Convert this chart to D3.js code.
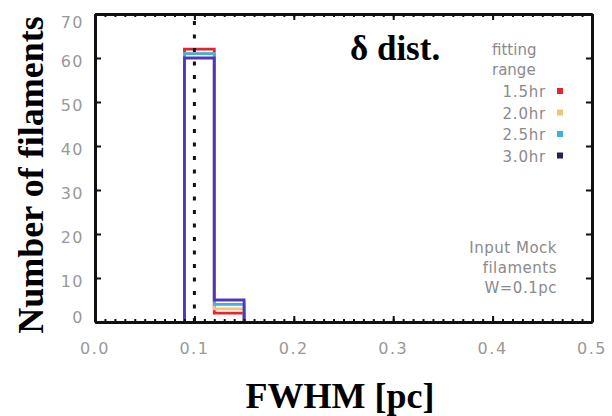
<!DOCTYPE html>
<html>
<head>
<meta charset="utf-8">
<script src="https://cdn.jsdelivr.net/npm/d3@7"></script>
<style>
  body { margin: 0; background: #fff; }
  svg { display: block; }
</style>
</head>
<body>
<div id="container"></div>
<script>
// histogram data
let binEdges = [0.09, 0.12, 0.15];
let seriesNames = ["1.5hr", "2.0hr", "2.5hr", "3.0hr"];
let seriesColors = ["#e3262e", "#f2c27a", "#3fb0e0", "#5236b8"];
let counts15 = [62, 2];
let counts20 = [61, 3];
let counts25 = [61, 4];
let counts30 = [60, 5];
let allCounts = [counts15, counts20, counts25, counts30];
let xTicks = [0.0, 0.1, 0.2, 0.3, 0.4, 0.5];
let yTicks = [0, 10, 20, 30, 40, 50, 60, 70];
let inputWidth = 0.1;

let w = 612;
let h = 416;
let padLeft = 95, padRight = 592, padTop = 14, padBottom = 322;

let viz = d3.select("#container")
  .append("svg")
    .attr("width", w)
    .attr("height", h)
;

let xScale = d3.scaleLinear().domain([0, 0.5]).range([padLeft, padRight]);
let yScale = d3.scaleLinear().domain([0, 70]).range([padBottom, padTop]);

// histogram steps
let stepLine = d3.line().x(d => xScale(d[0])).y(d => yScale(d[1]));
function stepPoints(c) {
  let pts = [[binEdges[0], 0]];
  for (let i = 0; i < c.length; i++) {
    pts.push([binEdges[i], c[i]]);
    pts.push([binEdges[i + 1], c[i]]);
  }
  pts.push([binEdges[binEdges.length - 1], 0]);
  return pts;
}
viz.append("g").selectAll("path")
  .data(allCounts)
  .enter()
  .append("path")
    .attr("d", d => stepLine(stepPoints(d)))
    .attr("fill", "none")
    .attr("stroke", (d, i) => seriesColors[i])
    .attr("stroke-width", 2.8)
;

// dotted input width line
viz.append("line")
  .attr("x1", xScale(inputWidth)).attr("x2", xScale(inputWidth))
  .attr("y1", yScale(0)).attr("y2", yScale(70))
  .attr("stroke", "#111")
  .attr("stroke-width", 3)
  .attr("stroke-dasharray", "4,9.5")
;

// axes: bottom/top/left/right with inward ticks
let xMinor = d3.range(0, 0.5001, 0.01);
function makeAxis(axisFn, scale, ticks, len) {
  return axisFn(scale).tickValues(ticks).tickSize(len).tickSizeOuter(0).tickFormat("");
}
let axesGroup = viz.append("g");
// minor ticks (x only)
axesGroup.append("g").attr("transform", "translate(0," + padBottom + ")")
  .call(makeAxis(d3.axisTop, xScale, xMinor, 3));
axesGroup.append("g").attr("transform", "translate(0," + padTop + ")")
  .call(makeAxis(d3.axisBottom, xScale, xMinor, 3));
// major ticks
axesGroup.append("g").attr("transform", "translate(0," + padBottom + ")")
  .call(makeAxis(d3.axisTop, xScale, xTicks, 6));
axesGroup.append("g").attr("transform", "translate(0," + padTop + ")")
  .call(makeAxis(d3.axisBottom, xScale, xTicks, 6));
axesGroup.append("g").attr("transform", "translate(" + padLeft + ",0)")
  .call(makeAxis(d3.axisRight, yScale, yTicks, 6));
axesGroup.append("g").attr("transform", "translate(" + padRight + ",0)")
  .call(makeAxis(d3.axisLeft, yScale, yTicks, 6));
axesGroup.selectAll("path.domain").attr("stroke", "#111").attr("stroke-width", 3);
axesGroup.selectAll(".tick line").attr("stroke", "#111").attr("stroke-width", 2);

// tick labels
viz.append("g").selectAll("text")
  .data(xTicks)
  .enter()
  .append("text")
    .attr("x", d => xScale(d))
    .attr("y", 354)
    .attr("text-anchor", "middle")
    .attr("font-family", "DejaVu Sans, sans-serif")
    .attr("font-size", 16)
    .attr("letter-spacing", 1.5)
    .attr("fill", "#999")
    .text(d => d.toFixed(1))
;
viz.append("g").selectAll("text")
  .data(yTicks)
  .enter()
  .append("text")
    .attr("x", 84)
    .attr("y", d => Math.min(Math.max(yScale(d) + 3, padTop + 8), padBottom - 5) + 6)
    .attr("text-anchor", "end")
    .attr("font-family", "DejaVu Sans, sans-serif")
    .attr("font-size", 16)
    .attr("letter-spacing", 1.5)
    .attr("fill", "#999")
    .text(d => d)
;

// axis titles
viz.append("text")
  .attr("x", 340).attr("y", 408)
  .attr("text-anchor", "middle")
  .attr("font-family", "Liberation Serif, Times New Roman, serif")
  .attr("font-weight", "bold")
  .attr("font-size", 36)
  .text("FWHM [pc]");
viz.append("text")
  .attr("transform", "translate(43,175) rotate(-90)")
  .attr("text-anchor", "middle")
  .attr("font-family", "Liberation Serif, Times New Roman, serif")
  .attr("font-weight", "bold")
  .attr("font-size", 36)
  .text("Number of filaments");

// panel label
viz.append("text")
  .attr("x", 350).attr("y", 60)
  .attr("font-family", "Liberation Serif, Times New Roman, serif")
  .attr("font-weight", "bold")
  .attr("font-size", 35)
  .text("δ dist.");

// legend
let legend = viz.append("g").attr("font-family", "DejaVu Sans, sans-serif")
  .attr("font-size", 15).attr("fill", "#8a8a8a");
legend.append("text").attr("x", 492).attr("y", 55).text("fitting");
legend.append("text").attr("x", 492).attr("y", 75).text("range");
let items = legend.selectAll("g.item")
  .data(seriesNames)
  .enter()
  .append("g").classed("item", true)
  .attr("transform", (d, i) => "translate(0," + (97 + i * 21.5) + ")");
items.append("text").attr("x", 546).attr("text-anchor", "end")
  .attr("letter-spacing", 0.8).text(d => d);
items.append("rect").attr("x", 557).attr("y", -9).attr("width", 6).attr("height", 6)
  .attr("fill", (d, i) => seriesColors[i]);
items.filter((d, i) => i == 3).select("rect").attr("fill", "#2a1f5e");

// note on input filaments
let note = ["Input Mock", "filaments", "W=0.1pc"];
viz.append("g").selectAll("text")
  .data(note)
  .enter()
  .append("text")
    .attr("x", 557)
    .attr("y", (d, i) => 253 + i * 20)
    .attr("text-anchor", "end")
    .attr("font-family", "DejaVu Sans, sans-serif")
    .attr("font-size", 15)
    .attr("letter-spacing", 0.5)
    .attr("fill", "#8a8a8a")
    .text(d => d)
;
</script>
</body>
</html>
